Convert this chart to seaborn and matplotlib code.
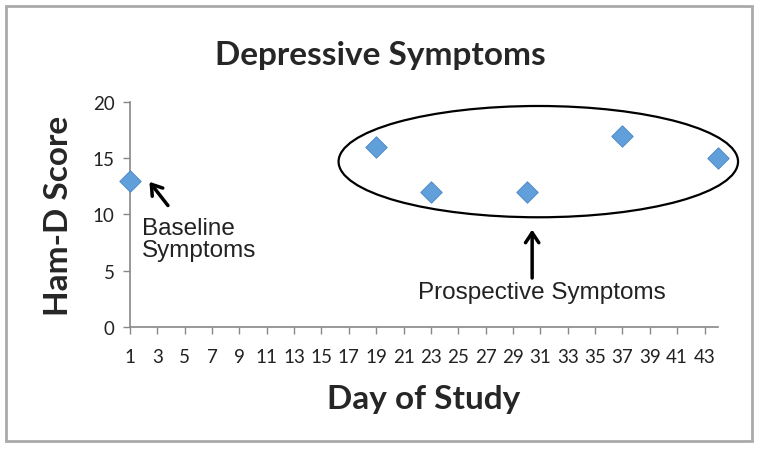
import matplotlib
matplotlib.use("Agg")
import matplotlib.pyplot as plt
import seaborn as sns
from matplotlib.patches import Ellipse, Rectangle

# data
days = [1, 19, 23, 30, 37, 44]
ham_d = [13, 16, 12, 12, 17, 15]
x_ticks = list(range(1, 44, 2))
y_ticks = [0, 5, 10, 15, 20]

sns.set_theme(style="white")
plt.rcParams["font.family"] = ["Lato", "DejaVu Sans"]

fig = plt.figure(figsize=(7.6, 4.56), dpi=100)
ax = fig.add_axes([0.171, 0.281, 0.774, 0.493])

sns.scatterplot(x=days, y=ham_d, marker="D", s=120, color="#619fdb",
                edgecolor="#4a86c5", linewidth=0.6, ax=ax, zorder=3, clip_on=False)

ax.set_xlim(1, 44)
ax.set_ylim(0, 20)
ax.set_xticks(x_ticks)
ax.set_yticks(y_ticks)
ax.tick_params(axis="both", direction="out", length=5, width=1, color="#888888",
               labelsize=13.5, labelcolor="#222222", pad=6, bottom=True, left=True)
ax.tick_params(axis="x", pad=10)
for side in ["top", "right"]:
    ax.spines[side].set_visible(False)
for side in ["left", "bottom"]:
    ax.spines[side].set_color("#888888")
    ax.spines[side].set_linewidth(1.2)

ax.set_xlabel("Day of Study", fontsize=24, fontweight="bold", labelpad=14)
ax.set_ylabel("Ham-D Score", fontsize=24, fontweight="bold", labelpad=14)
fig.text(0.5, 0.878, "Depressive Symptoms", ha="center", va="center",
         fontsize=24, fontweight="bold")

# ellipse round the prospective points
ax.add_patch(Ellipse((30.85, 14.7), 29.2, 9.9, fill=False, edgecolor="black",
                     linewidth=1.6, clip_on=False, zorder=2))

# annotations
ax.annotate("", xy=(2.3, 13.1), xytext=(3.9, 10.6),
            arrowprops=dict(arrowstyle="->,head_length=0.6,head_width=0.4",
                            lw=2.5, color="black"))
ax.text(1.9, 9.8, "Baseline\nSymptoms", fontsize=17.5, family=["Liberation Sans"],
        ha="left", va="top", linespacing=1.0, color="#222222")
ax.annotate("", xy=(30.4, 8.9), xytext=(30.4, 4.1),
            arrowprops=dict(arrowstyle="->,head_length=0.6,head_width=0.4",
                            lw=2.5, color="black"))
ax.text(31.1, 3.1, "Prospective Symptoms", fontsize=17.5, family=["Liberation Sans"],
        ha="center", va="center", color="#222222")

# outer frame
fig.patches.append(Rectangle((0.008, 0.03), 0.982, 0.955, transform=fig.transFigure,
                             fill=False, edgecolor="#aaaaaa", linewidth=2))

fig.savefig("out.png", dpi=100)
